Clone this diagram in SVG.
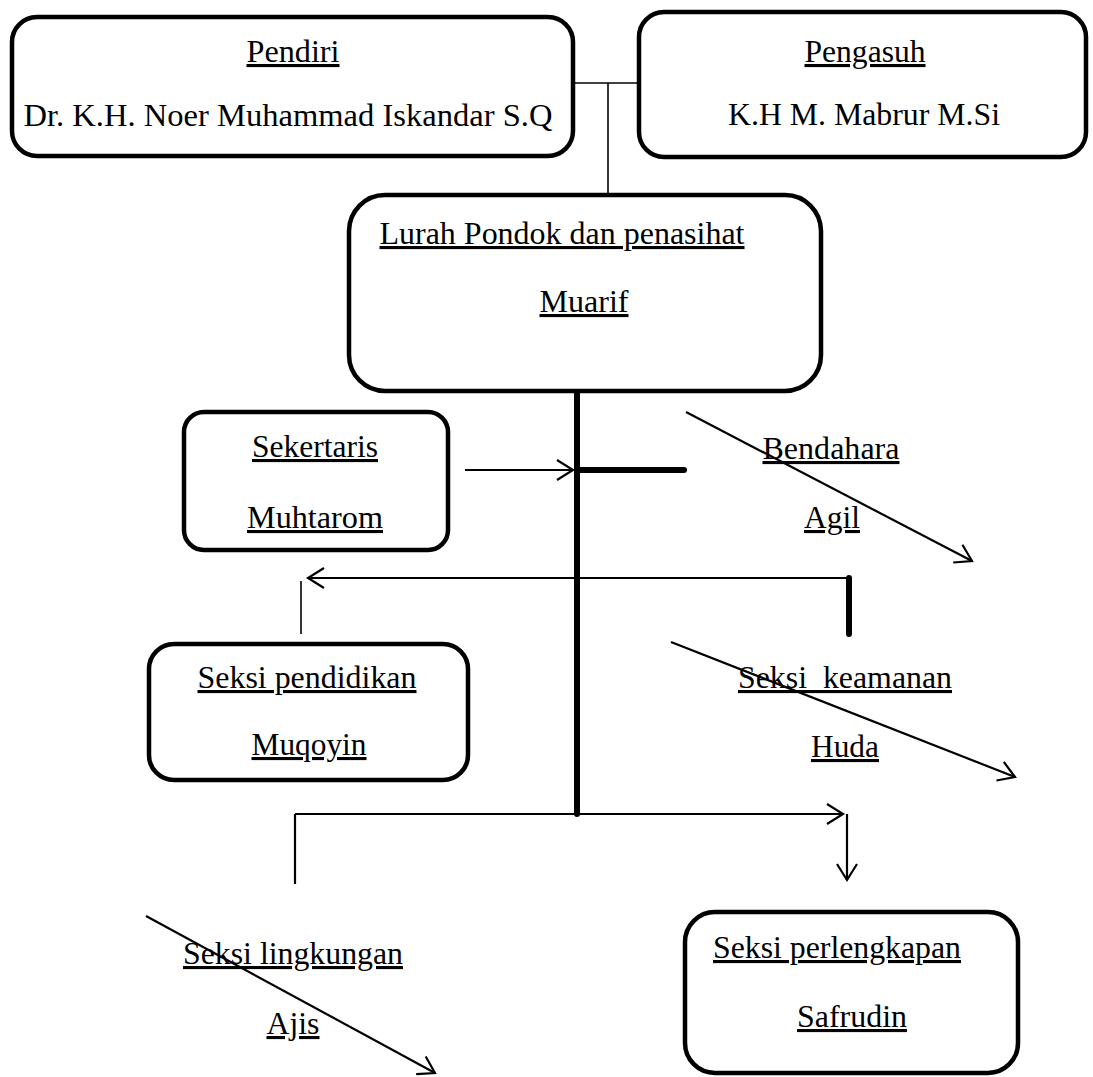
<svg xmlns="http://www.w3.org/2000/svg" width="1093" height="1077" viewBox="0 0 1093 1077">
<style>
.box{fill:#fff;stroke:#000;stroke-width:4.5}
.t{font-family:"Liberation Serif","Times New Roman",serif;font-size:31px;fill:#000;text-anchor:middle}
.u{text-decoration:underline}
.thin{stroke:#000;stroke-width:1.6;fill:none}
.ln{stroke:#000;stroke-width:2.2;fill:none}
.thick{stroke:#000;stroke-width:6;fill:none;stroke-linecap:round}
</style>
<defs>
<marker id="arr" markerUnits="userSpaceOnUse" markerWidth="22" markerHeight="24" refX="19" refY="12" orient="auto">
<path d="M3,2 L19,12 L3,22" fill="none" stroke="#000" stroke-width="2.2"/>
</marker>
</defs>
<rect width="1093" height="1077" fill="#fff"/>
<g id="connectors">
<line class="thin" x1="575" y1="83" x2="637" y2="83"/>
<line class="thin" x1="608" y1="83" x2="608" y2="193"/>
<line class="thick" x1="577" y1="393" x2="577" y2="814" stroke-linecap="butt"/>
<line class="thick" x1="577" y1="470" x2="684" y2="470" stroke-width="5"/>
<line class="ln" x1="465" y1="470" x2="573" y2="470" marker-end="url(#arr)"/>
<line class="ln" x1="686" y1="412" x2="972" y2="561" marker-end="url(#arr)"/>
<line class="ln" x1="849" y1="578" x2="308" y2="578" marker-end="url(#arr)"/>
<line class="thick" x1="849" y1="578" x2="849" y2="634" stroke-width="5"/>
<line class="thin" x1="301" y1="581" x2="301" y2="634"/>
<line class="ln" x1="671" y1="642" x2="1015" y2="777" marker-end="url(#arr)"/>
<line class="ln" x1="295" y1="814" x2="843" y2="814" marker-end="url(#arr)"/>
<line class="ln" x1="295" y1="814" x2="295" y2="884"/>
<line class="ln" x1="847" y1="814" x2="847" y2="880" marker-end="url(#arr)"/>
<line class="ln" x1="146" y1="916" x2="435" y2="1073" marker-end="url(#arr)"/>
</g>
<g id="pendiri">
<rect class="box" x="12" y="17" width="561" height="139" rx="25"/>
<text class="t u" x="293" y="62" textLength="93" lengthAdjust="spacingAndGlyphs">Pendiri</text>
<text class="t" x="288" y="126" textLength="529" lengthAdjust="spacingAndGlyphs">Dr. K.H. Noer Muhammad Iskandar S.Q</text>
</g>
<g id="pengasuh">
<rect class="box" x="639" y="12" width="447" height="145" rx="25"/>
<text class="t u" x="865" y="62" textLength="121" lengthAdjust="spacingAndGlyphs">Pengasuh</text>
<text class="t" x="864" y="125" textLength="272" lengthAdjust="spacingAndGlyphs">K.H M. Mabrur M.Si</text>
</g>
<g id="lurah">
<rect class="box" x="349" y="195" width="472" height="196" rx="36"/>
<text class="t u" x="562" y="244" textLength="365" lengthAdjust="spacingAndGlyphs">Lurah Pondok dan penasihat</text>
<text class="t u" x="584" y="312" textLength="89" lengthAdjust="spacingAndGlyphs">Muarif</text>
</g>
<g id="sekertaris">
<rect class="box" x="184" y="412" width="264" height="138" rx="20"/>
<text class="t u" x="315" y="457" textLength="126" lengthAdjust="spacingAndGlyphs">Sekertaris</text>
<text class="t u" x="315" y="528" textLength="136" lengthAdjust="spacingAndGlyphs">Muhtarom</text>
</g>
<g id="bendahara">
<text class="t u" x="831" y="459" textLength="137" lengthAdjust="spacingAndGlyphs">Bendahara</text>
<text class="t u" x="832" y="528" textLength="56" lengthAdjust="spacingAndGlyphs">Agil</text>
</g>
<g id="pendidikan">
<rect class="box" x="149" y="644" width="319" height="136" rx="25"/>
<text class="t u" x="307" y="688" textLength="219" lengthAdjust="spacingAndGlyphs">Seksi pendidikan</text>
<text class="t u" x="309" y="755" textLength="115" lengthAdjust="spacingAndGlyphs">Muqoyin</text>
</g>
<g id="keamanan">
<text class="t u" x="845" y="688" textLength="214" lengthAdjust="spacingAndGlyphs" xml:space="preserve">Seksi  keamanan</text>
<text class="t u" x="845" y="757" textLength="68" lengthAdjust="spacingAndGlyphs">Huda</text>
</g>
<g id="lingkungan">
<text class="t u" x="293" y="964" textLength="220" lengthAdjust="spacingAndGlyphs">Seksi lingkungan</text>
<text class="t u" x="293" y="1034" textLength="53" lengthAdjust="spacingAndGlyphs">Ajis</text>
</g>
<g id="perlengkapan">
<rect class="box" x="685" y="912" width="333" height="161" rx="30"/>
<text class="t u" x="837" y="958" textLength="248" lengthAdjust="spacingAndGlyphs">Seksi perlengkapan</text>
<text class="t u" x="852" y="1027" textLength="110" lengthAdjust="spacingAndGlyphs">Safrudin</text>
</g>
</svg>
